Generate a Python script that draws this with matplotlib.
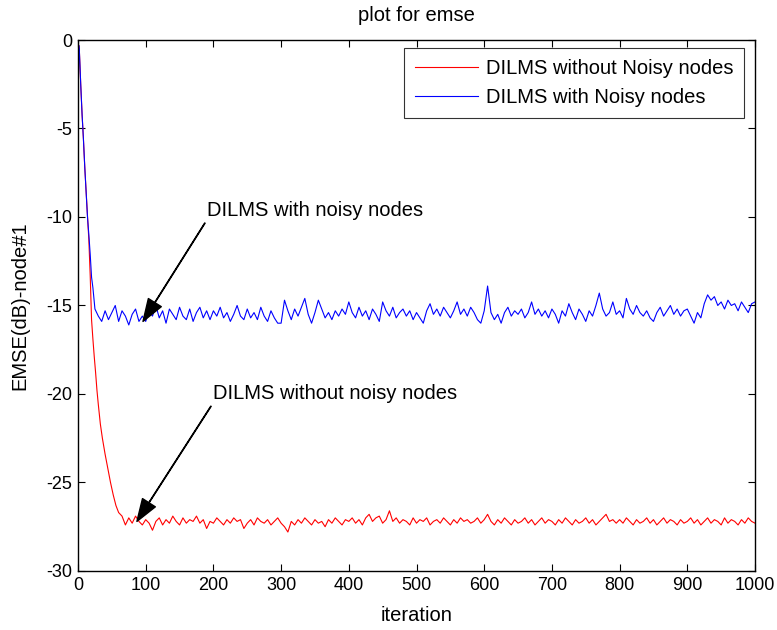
import numpy as np
import matplotlib.pyplot as plt

plt.rcParams['font.family'] = ['Liberation Sans', 'DejaVu Sans']
plt.rcParams['axes.unicode_minus'] = False

# early part (transient)
blue_x0 = [0, 1, 2, 4, 6, 8, 10, 12, 14, 16, 18, 20, 22, 25,
           30, 35, 40, 45, 50, 55, 60, 65, 70, 75, 80, 85, 90, 95]
blue_y0 = [-5, -0.3, -0.6, -2.5, -4.2, -5.6, -7.2, -8.6, -10.0, -11.0, -12.1, -13.4, -14.0, -15.2,
           -15.6, -15.9, -15.3, -15.8, -15.4, -15.0, -15.9, -15.3, -15.6, -16.1, -15.5, -15.2, -15.9, -15.6]

red_x0 = [0, 1, 2, 4, 6, 8, 10, 12, 14, 16, 18, 20, 22, 24, 26, 28, 30,
          33, 36, 40, 44, 48, 52, 56, 60, 65, 70, 75, 80, 85, 90, 95]
red_y0 = [-5, -0.3, -0.6, -2.5, -4.2, -5.6, -7.2, -8.6, -10.0, -11.3, -13.3, -15.8, -16.9, -17.9, -18.8, -19.8, -20.6,
          -21.7, -22.5, -23.4, -24.2, -25.0, -25.7, -26.3, -26.7, -26.9, -27.4, -27.0, -27.3, -26.9, -27.2, -27.4]

# steady part, every 5 iterations from 100 to 1000
blue_steady = [
    -15.9, -15.3, -15.6, -15.0, -15.7, -15.3, -16.0, -15.2, -15.5, -15.8, -15.1, -15.6, -15.8, -15.2, -15.9, -15.4, -15.1, -15.7, -15.3, -15.8,
    -15.3, -15.6, -15.1, -15.7, -15.4, -15.9, -15.5, -15.0, -15.6, -15.8, -15.2, -15.7, -15.4, -15.8, -15.1, -15.6, -15.9, -15.3, -15.7, -16.0,
    -16.0, -14.7, -15.3, -15.8, -15.2, -15.6, -15.1, -14.6, -15.5, -16.0, -15.4, -14.7, -15.2, -15.7, -15.4, -15.8, -15.3, -15.6, -15.2, -15.5,
    -14.8, -15.4, -15.7, -15.1, -15.6, -15.3, -15.8, -15.2, -15.5, -15.9, -14.8, -15.3, -15.6, -15.1, -15.7, -15.4, -15.2, -15.6, -15.3, -15.8,
    -15.4, -15.7, -16.0, -15.3, -14.9, -15.5, -15.2, -15.6, -15.1, -15.4, -15.7, -15.3, -14.8, -15.5, -15.2, -15.6, -15.1, -15.4, -15.8, -16.0,
    -15.3, -13.9, -15.4, -15.8, -15.5, -16.0, -15.4, -15.1, -15.6, -15.3, -15.5, -15.2, -15.7, -15.4, -14.8, -15.5, -15.2, -15.6, -15.3, -15.7,
    -15.2, -15.5, -16.0, -15.3, -15.6, -14.9, -15.4, -15.8, -15.2, -15.5, -15.9, -15.3, -15.6, -15.0, -14.3, -15.2, -15.6, -15.4, -14.8, -15.5,
    -15.3, -15.7, -14.6, -15.2, -15.5, -15.0, -15.4, -15.6, -15.3, -15.7, -15.9, -15.4, -15.1, -15.6, -15.3, -15.0, -15.5, -15.2, -15.6, -15.3,
    -15.2, -15.6, -16.0, -15.4, -15.7, -14.9, -14.4, -14.7, -14.5, -15.0, -14.8, -15.2, -14.7, -15.0, -14.9, -15.3, -14.8, -15.1, -15.4, -14.9,
    -14.8]

red_steady = [
    -27.1, -27.3, -27.7, -27.2, -27.0, -27.4, -27.1, -27.3, -26.9, -27.2, -27.4, -27.0, -27.3, -27.1, -27.2, -26.9, -27.3, -27.1, -27.6, -27.2,
    -27.3, -27.0, -27.2, -27.4, -27.1, -27.3, -27.0, -27.2, -27.1, -27.6, -27.3, -27.1, -27.4, -27.0, -27.2, -27.3, -27.1, -27.4, -27.2, -27.0,
    -27.3, -27.5, -27.8, -27.2, -27.4, -27.1, -27.3, -27.0, -27.2, -27.4, -27.1, -27.3, -27.2, -27.5, -27.1, -27.3, -27.0, -27.2, -27.4, -27.1,
    -27.2, -27.0, -27.3, -27.1, -27.4, -27.0, -26.8, -27.2, -27.0, -26.9, -27.3, -27.1, -26.6, -27.2, -27.0, -27.3, -27.1, -27.2, -27.4, -27.0,
    -27.3, -27.1, -27.2, -27.0, -27.4, -27.2, -27.1, -27.3, -27.0, -27.2, -27.4, -27.1, -27.3, -27.0, -27.2, -27.1, -27.3, -27.2, -27.0, -27.3,
    -27.1, -26.8, -27.2, -27.4, -27.1, -27.3, -27.0, -27.2, -27.4, -27.1, -27.3, -27.2, -27.0, -27.3, -27.1, -27.4, -27.2, -27.0, -27.3, -27.1,
    -27.2, -27.4, -27.1, -27.3, -27.0, -27.2, -27.4, -27.1, -27.3, -27.2, -27.0, -27.3, -27.1, -27.4, -27.2, -27.0, -26.8, -27.2, -27.1, -27.3,
    -27.1, -27.3, -27.0, -27.2, -27.4, -27.1, -27.3, -27.2, -27.0, -27.3, -27.1, -27.4, -27.2, -27.0, -27.3, -27.1, -27.2, -27.4, -27.1, -27.3,
    -27.2, -27.0, -27.3, -27.1, -27.4, -27.2, -27.0, -27.3, -27.1, -27.2, -27.4, -27.0, -27.3, -27.1, -27.2, -27.4, -27.1, -27.3, -27.0, -27.2,
    -27.3]

blue_x = np.concatenate([blue_x0, 100 + 5 * np.arange(len(blue_steady))])
blue_y = np.concatenate([blue_y0, blue_steady])
red_x = np.concatenate([red_x0, 100 + 5 * np.arange(len(red_steady))])
red_y = np.concatenate([red_y0, red_steady])

fig = plt.figure(figsize=(7.77, 6.3), dpi=100)
ax = fig.add_axes([0.1004, 0.0937, 0.8713, 0.8428])

ax.plot(red_x, red_y, color='red', lw=0.8, label='DILMS without Noisy nodes')
ax.plot(blue_x, blue_y, color='blue', lw=0.8, label='DILMS with Noisy nodes')

ax.set_xlim(0, 1000)
ax.set_ylim(-30, 0)
ax.set_xticks(np.arange(0, 1001, 100))
ax.set_yticks(np.arange(-30, 1, 5))
ax.tick_params(direction='in', top=True, right=True, length=5, labelsize=13, pad=4)
for s in ax.spines.values():
    s.set_linewidth(1.0)

ax.set_title('plot for emse', fontsize=14.5, pad=14)
ax.set_xlabel('iteration', fontsize=14.5, labelpad=9)
ax.set_ylabel('EMSE(dB)-node#1', fontsize=14.5, labelpad=12)

arrow = dict(facecolor='black', edgecolor='black', width=0.3, headwidth=11, headlength=16, shrink=0)
ax.annotate('DILMS with noisy nodes', xy=(96, -15.9), xytext=(190, -9.65),
            fontsize=14.5, ha='left', va='center', arrowprops=arrow)
ax.annotate('DILMS without noisy nodes', xy=(87, -27.2), xytext=(199, -20.0),
            fontsize=14.5, ha='left', va='center', arrowprops=arrow)

leg = ax.legend(loc='upper right', bbox_to_anchor=(0.984, 0.985), borderaxespad=0,
                fancybox=False, edgecolor='black', fontsize=14.5, handlelength=3.1,
                handletextpad=0.4, borderpad=0.55, labelspacing=0.5)
leg.get_frame().set_linewidth(0.8)

fig.savefig('out.png', dpi=100)
